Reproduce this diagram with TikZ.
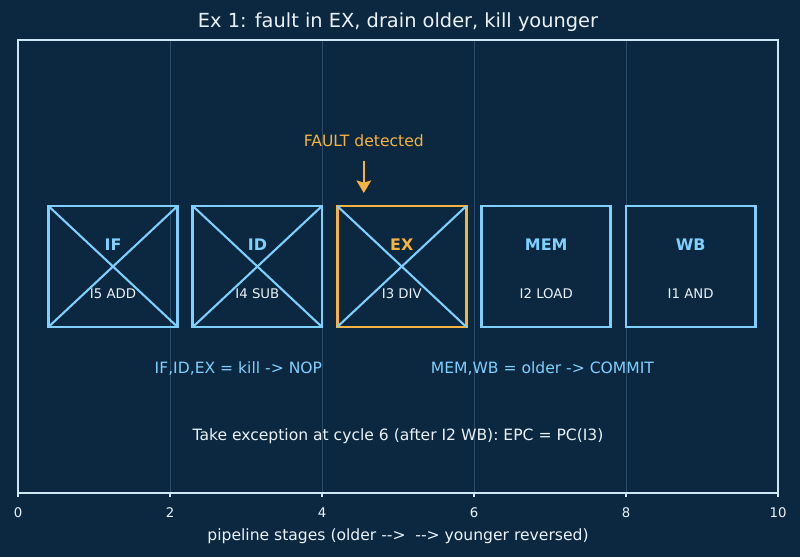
\documentclass[tikz,border=0pt]{standalone}
\usepackage{fontspec}
\setmainfont{DejaVu Sans}
\usetikzlibrary{positioning,arrows.meta}

\definecolor{bgnavy}{HTML}{0B2840}
\definecolor{stageblue}{HTML}{7FD0FF}
\definecolor{faultorange}{HTML}{F5B342}
\definecolor{txtwhite}{HTML}{EAF2F8}
\definecolor{gridgray}{HTML}{2C4B66}
\definecolor{spinecol}{HTML}{CFE6F5}

\newlength\pxl
\setlength\pxl{0.01in}

\begin{document}
\begin{tikzpicture}[x=76\pxl,y=\pxl,
  stg/.style={draw=#1,line width=1.9pt,minimum width=129.2\pxl,minimum height=121\pxl,outer sep=0pt,inner sep=0pt},
  stgname/.style={text=#1,font=\fontsize{11.5}{13}\selectfont\bfseries},
  instr/.style={text=txtwhite,font=\fontsize{9.6}{11}\selectfont},
  note/.style={text=#1,font=\fontsize{11.25}{13}\selectfont},
  kill/.style={draw=stageblue,line width=1.5pt}]
\useasboundingbox[fill=bgnavy] (-18/76,-64) rectangle (782/76,493);
% grid
\foreach \x in {2,4,6,8}
  \draw[gridgray,line width=0.6pt] (\x,0) -- (\x,453);
% stages
\foreach \x/\n/\s/\i/\c in %
{1.25/if/IF/I5 ADD/stageblue,3.15/id/ID/I4 SUB/stageblue,5.05/ex/EX/I3 DIV/faultorange,6.95/mem/MEM/I2 LOAD/stageblue,8.85/wb/WB/I1 AND/stageblue} {
  \node[stg=\c] (\n) at (\x,226.5) {};
  \node[stgname=\c] (\n name) at ([yshift=21.5\pxl]\n.center) {\s};
  \node[instr] (\n instr) at ([yshift=-27.5\pxl]\n.center) {\i};
}
\foreach \n in {if,id,ex} {
  \draw[kill] (\n.north west) -- (\n.south east);
  \draw[kill] (\n.south west) -- (\n.north east);
}
\node[note=faultorange] (fault) at (4.55,352) {FAULT detected};
\draw[faultorange,line width=1.7pt,-{Stealth[length=9pt,width=10.5pt,inset=1.5pt]},
  shorten <=9\pxl,shorten >=13\pxl] (fault.south) -- (fault.south |- ex.north);
\node[note=stageblue] (killtxt) at (2.9,125) {IF,ID,EX = kill -> NOP};
\node[note=stageblue] (committxt) at (6.9,125) {MEM,WB = older -> COMMIT};
\node[note=txtwhite] (exctxt) at (5,57) {Take exception at cycle 6 (after I2 WB): EPC = PC(I3)};
% axes
\draw[spinecol,line width=1.2pt] (0,0) rectangle (10,453);
\foreach \x in {0,2,...,10} {
  \draw[spinecol,line width=0.8pt] (\x,0) -- (\x,-4.5);
  \node[text=txtwhite,font=\fontsize{9.6}{11}\selectfont] (tick\x) at (\x,-20) {\x};
}
\node[text=txtwhite,font=\fontsize{11.25}{13}\selectfont] (xlabel) at (5,-43) {pipeline stages (older {-}{-}>\ \ {-}{-}> younger reversed)};
\node[text=txtwhite,font=\fontsize{14}{16}\selectfont] (title) at (5,471) {Ex 1: fault in EX, drain older, kill younger};
\end{tikzpicture}
\end{document}
